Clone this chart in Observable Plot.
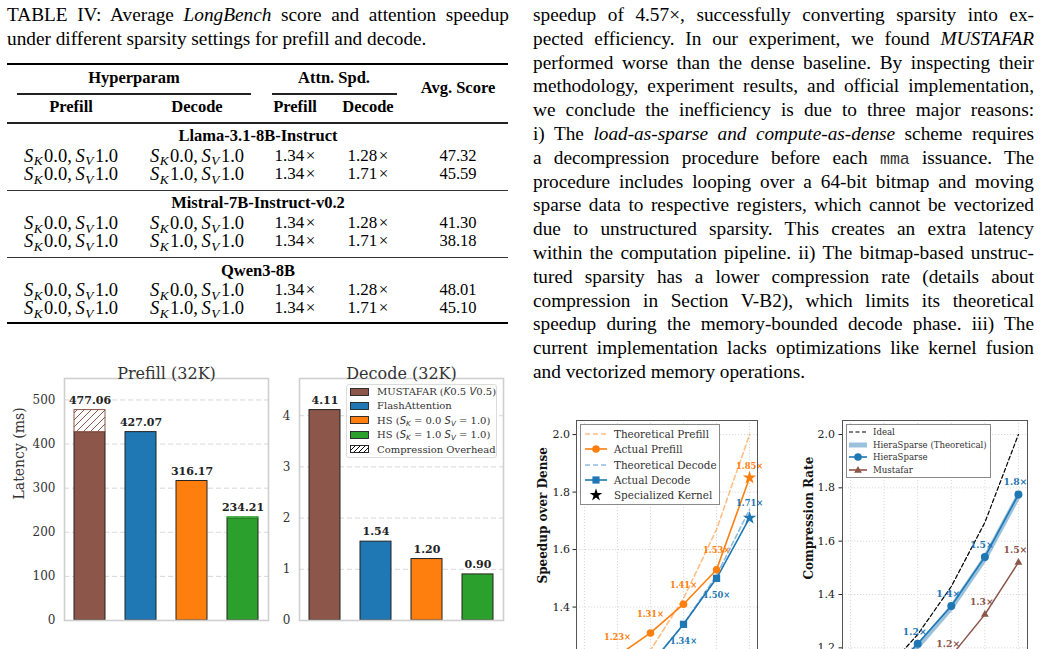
<!DOCTYPE html>
<html>
<head>
<meta charset="utf-8">
<script src="https://cdn.jsdelivr.net/npm/d3@7"></script>
<script src="https://cdn.jsdelivr.net/npm/@observablehq/plot@0.6"></script>
<style>
html, body { margin:0; padding:0; background:#fff; }
body { width:1042px; height:649px; overflow:hidden; position:relative; }
.tx { font-family:"Liberation Serif","Times New Roman",serif; color:#000; position:absolute; }
.j { text-align:justify; text-align-last:justify; }
.cell { position:absolute; width:260px; margin-left:-130px; text-align:center; white-space:nowrap; font-family:"Liberation Serif",serif; font-size:16.5px; line-height:18px; color:#000; }
.cell.math { font-size:18.5px; }
.cell.num { font-size:17px; }
.rule { position:absolute; background:#000; }
sub { font-size:0.72em; vertical-align:-0.28em; line-height:0; }
.cell sub { margin-left:0.5px; margin-right:1.5px; }
.tt { font-family:"Liberation Mono", monospace; font-size:0.86em; color:#333; line-height:0; }
.chart { position:absolute; }
.legend { position:absolute; background:rgba(255,255,255,0.9); box-sizing:border-box; font-family:"DejaVu Serif",serif; color:#333; }
.legend .row { position:absolute; display:flex; align-items:center; white-space:nowrap; height:16px; }
.mi { font-family:"DejaVu Sans",sans-serif; font-style:italic; }
</style>
</head>
<body>
<script>
// ---------------- data ----------------
const captionLines = [
  'TABLE IV: Average <i>LongBench</i> score and attention speedup',
  'under different sparsity settings for prefill and decode.'
];
const models = ["Llama-3.1-8B-Instruct", "Mistral-7B-Instruct-v0.2", "Qwen3-8B"];
const hyperPrefillSK = [0.0, 0.0, 0.0, 0.0, 0.0, 0.0];
const hyperPrefillSV = [1.0, 1.0, 1.0, 1.0, 1.0, 1.0];
const hyperDecodeSK  = [0.0, 1.0, 0.0, 1.0, 0.0, 1.0];
const hyperDecodeSV  = [1.0, 1.0, 1.0, 1.0, 1.0, 1.0];
const attnPrefill = [1.34, 1.34, 1.34, 1.34, 1.34, 1.34];
const attnDecode  = [1.28, 1.71, 1.28, 1.71, 1.28, 1.71];
const avgScore    = [47.32, 45.59, 41.30, 38.18, 48.01, 45.10];

const paraLines = [
  'speedup of 4.57×, successfully converting sparsity into ex-',
  'pected efficiency. In our experiment, we found <i>MUSTAFAR</i>',
  'performed worse than the dense baseline. By inspecting their',
  'methodology, experiment results, and official implementation,',
  'we conclude the inefficiency is due to three major reasons:',
  'i) The <i>load-as-sparse and compute-as-dense</i> scheme requires',
  'a decompression procedure before each <span class="tt">mma</span> issuance. The',
  'procedure includes looping over a 64-bit bitmap and moving',
  'sparse data to respective registers, which cannot be vectorized',
  'due to unstructured sparsity. This creates an extra latency',
  'within the computation pipeline. ii) The bitmap-based unstruc-',
  'tured sparsity has a lower compression rate (details about',
  'compression in Section V-B2), which limits its theoretical',
  'speedup during the memory-bounded decode phase. iii) The',
  'current implementation lacks optimizations like kernel fusion',
  'and vectorized memory operations.'
];

// bar charts
const methods = ["MUSTAFAR", "FlashAttention", "HS0", "HS1"];
const methodLabels = [
  'MUSTAFAR (<span class="mi">K</span>0.5 <span class="mi">V</span>0.5)',
  'FlashAttention',
  'HS (<span class="mi">S<sub>K</sub></span> = 0.0 <span class="mi">S<sub>V</sub></span> = 1.0)',
  'HS (<span class="mi">S<sub>K</sub></span> = 1.0 <span class="mi">S<sub>V</sub></span> = 1.0)'
];
const overheadLabel = 'Compression Overhead';
const methodColors = ["#8c564b", "#1f77b4", "#ff7f0e", "#2ca02c"];
const prefillKernel = [427.07, 427.07, 316.17, 231.60];
const prefillTotal  = [477.06, 427.07, 316.17, 234.21];
const decodeKernel  = [4.11, 1.54, 1.20, 0.90];
const decodeTotal   = [4.11, 1.54, 1.20, 0.90];
const prefillTicks = [0, 100, 200, 300, 400, 500];
const decodeTicks  = [0, 1, 2, 3, 4];

// speedup chart
const sparsity = [0.0, 0.1, 0.2, 0.3, 0.4, 0.5];
const theoPrefill   = [1.00, 1.11, 1.25, 1.43, 1.67, 2.00];
const actualPrefill = [1.12, 1.23, 1.31, 1.41, 1.53, 1.85];
const theoDecode    = [1.00, 1.09, 1.20, 1.34, 1.51, 1.74];
const actualDecode  = [1.02, 1.10, 1.20, 1.34, 1.50, 1.71];
const speedTicks = [1.0, 1.2, 1.4, 1.6, 1.8, 2.0];
const speedLegend = ["Theoretical Prefill", "Actual Prefill", "Theoretical Decode", "Actual Decode", "Specialized Kernel"];

// compression chart
const idealRate    = [1.00, 1.11, 1.25, 1.43, 1.67, 2.00];
const hieraTheo    = [0.98, 1.09, 1.205, 1.35, 1.535, 1.77];
const hieraRate    = [0.98, 1.09, 1.215, 1.357, 1.541, 1.775];
const mustafarRate = [0.92, 0.99, 1.07, 1.17, 1.325, 1.52];
const rateTicks = [1.0, 1.2, 1.4, 1.6, 1.8, 2.0];
const rateLegend = ["Ideal", "HieraSparse (Theoretical)", "HieraSparse", "Mustafar"];

// ---------------- helpers ----------------
function el(tag, cls, style, html) {
  const e = document.createElement(tag);
  if (cls) e.className = cls;
  if (style) Object.assign(e.style, style);
  if (html != null) e.innerHTML = html;
  document.body.appendChild(e);
  return e;
}
function place(node, left, top) {
  node.style.position = "absolute";
  node.style.left = left + "px";
  node.style.top = top + "px";
  document.body.appendChild(node);
}

// ---------------- caption ----------------
const cap = el("div", "tx", {left: "7px", top: "3px", width: "502px", fontSize: "19.3px", lineHeight: "24px"});
captionLines.forEach((h, i) => {
  const d = document.createElement("div");
  if (i < captionLines.length - 1) d.className = "j";
  d.innerHTML = h;
  cap.appendChild(d);
});

// ---------------- table ----------------
function rule(x1, x2, y, h, color) {
  el("div", "rule", {left: x1 + "px", width: (x2 - x1) + "px", top: (y - h / 2) + "px", height: h + "px", background: color || "#000"});
}
function cell(html, cx, cy, bold, kind) {
  el("div", "cell" + (kind ? " " + kind : ""), {left: cx + "px", top: (cy - 10) + "px", fontWeight: bold ? "bold" : "normal"}, html);
}
const colX = [71, 197, 295, 368, 458];
rule(7, 508, 64, 1.7);
cell("Hyperparam", 134, 79, true);
cell("Attn. Spd.", 334, 79, true);
cell("Avg. Score", 458, 89, true);
rule(17, 251, 94, 1.1, "#222");
rule(272, 397, 94, 1.1, "#222");
cell("Prefill", colX[0], 108, true);
cell("Decode", colX[1], 108, true);
cell("Prefill", colX[2], 108, true);
cell("Decode", colX[3], 108, true);
rule(7, 508, 123, 1.1, "#222");
const sk = (k, v) => `<i>S</i><sub><i>K</i></sub>${k.toFixed(1)},&#8201;<i>S</i><sub><i>V</i></sub>${v.toFixed(1)}`;
const times = v => v.toFixed(2) + "&#8202;×";
models.forEach((m, g) => {
  const gy = 137 + g * 67.3;
  if (g > 0) rule(7, 508, gy - 14, 1.1, "#333");
  cell(m, 258, gy, true);
  for (let r = 0; r < 2; r++) {
    const i = g * 2 + r;
    const y = gy + 19.5 + r * 18.3;
    cell(sk(hyperPrefillSK[i], hyperPrefillSV[i]), colX[0], y, false, "math");
    cell(sk(hyperDecodeSK[i], hyperDecodeSV[i]), colX[1], y, false, "math");
    cell(times(attnPrefill[i]), colX[2], y, false, "num");
    cell(times(attnDecode[i]), colX[3], y, false, "num");
    cell(avgScore[i].toFixed(2), colX[4], y);
  }
});
rule(7, 508, 323, 1.7);

// ---------------- paragraph ----------------
const para = el("div", "tx", {left: "533px", top: "3px", width: "501px", fontSize: "19.3px", lineHeight: "23.8px"});
paraLines.forEach((h, i) => {
  const d = document.createElement("div");
  d.style.height = "23.8px";
  if (i < paraLines.length - 1) d.className = "j";
  d.innerHTML = h;
  para.appendChild(d);
});

// ---------------- bar charts ----------------
function barChart(cfg) {
  const data = methods.map((m, i) => ({
    m, base: cfg.base[i], total: cfg.total[i], color: methodColors[i],
    hatch: `url(#hatch-${cfg.id}-${i})`, text: cfg.total[i].toFixed(2)
  }));
  const over = data.filter(d => d.total - d.base > 1e-6);
  const marks = [
    Plot.ruleY(cfg.ticks.slice(1), {stroke: "#d4d4d4", strokeDasharray: "5,3", strokeWidth: 0.9}),
    Plot.barY(data, {x: "m", y: "base", fill: "color", stroke: "#222", strokeWidth: 1}),
    Plot.barY(over, {x: "m", y1: "base", y2: "total", fill: "hatch", stroke: "color", strokeWidth: 1}),
    Plot.text(data, {x: "m", y: "total", text: "text", dy: -10, fontWeight: "bold", fontSize: 11, fill: "#222"}),
    Plot.frame({stroke: "#cfcfcf", strokeWidth: 1.6}),
    Plot.text([cfg.title], {text: d => d, frameAnchor: "top", dy: -11, fontSize: 16, fill: "#333"})
  ];
  if (cfg.ylabel) marks.push(Plot.text([cfg.ylabel], {text: d => d, frameAnchor: "left", dx: -45, rotate: -90, fontSize: 14, fill: "#333"}));
  const svg = Plot.plot({
    width: cfg.width, height: 300,
    marginLeft: cfg.marginLeft, marginRight: 12, marginTop: 38, marginBottom: 20,
    style: {fontFamily: "'DejaVu Serif', serif", fontSize: "12px", color: "#333", background: "transparent"},
    x: {domain: methods, axis: null, paddingInner: 0.4, paddingOuter: 0.2},
    y: {domain: [0, cfg.yMax], ticks: cfg.ticks, tickSize: 0, tickPadding: 9, label: null, tickFormat: d => String(d)},
    color: {type: "identity"},
    marks
  });
  const defs = d3.select(svg).insert("defs", ":first-child");
  data.forEach((d, i) => {
    const p = defs.append("pattern").attr("id", `hatch-${cfg.id}-${i}`)
      .attr("patternUnits", "userSpaceOnUse").attr("width", 7).attr("height", 7);
    p.append("rect").attr("width", 7).attr("height", 7).attr("fill", "white");
    p.append("path").attr("d", "M-1,1 L1,-1 M0,7 L7,0 M6,8 L8,6")
      .attr("stroke", d.color).attr("stroke-width", 1);
  });
  place(svg, cfg.left, cfg.top);
}
barChart({id: "p", base: prefillKernel, total: prefillTotal, ticks: prefillTicks, yMax: 477.06 * 1.15,
  title: "Prefill (32K)", ylabel: "Latency (ms)", width: 280, marginLeft: 64, left: 0, top: 340});
barChart({id: "d", base: decodeKernel, total: decodeTotal, ticks: decodeTicks, yMax: 4.11 * 1.15,
  title: "Decode (32K)", ylabel: null, width: 235, marginLeft: 19, left: 280, top: 340});

// ---------------- legends ----------------
const starPath = (size) => d3.symbol(d3.symbolStar, size)();
const triPath = (size) => d3.symbol(d3.symbolTriangle, size)();
function legend(cfg) {
  const box = el("div", "legend", {left: cfg.left + "px", top: cfg.top + "px", width: cfg.width + "px",
    height: cfg.height + "px", border: cfg.border, borderRadius: (cfg.radius || 0) + "px", fontSize: cfg.fontSize + "px"});
  cfg.items.forEach((it, i) => {
    const row = document.createElement("div");
    row.className = "row";
    row.style.left = (cfg.swLeft - cfg.left - 1) + "px";
    row.style.top = (cfg.firstRow + i * cfg.rowStep - cfg.top - 1 - 8) + "px";
    row.innerHTML = `<svg width="${cfg.swW}" height="16" style="flex:none;margin-right:${cfg.gap}px;overflow:visible">${it.swatch(cfg.swW)}</svg><span>${it.label}</span>`;
    box.appendChild(row);
  });
}
const rectSw = c => w => `<rect x="0.5" y="4.5" width="${w - 1}" height="7" fill="${c}" stroke="#222" stroke-width="0.9"/>`;
const hatchSw = w => `<defs><pattern id="lg-hatch" patternUnits="userSpaceOnUse" width="5" height="5"><path d="M-1,1 L1,-1 M0,5 L5,0 M4,6 L6,4" stroke="#111" stroke-width="1"/></pattern></defs><rect x="0.5" y="4.5" width="${w - 1}" height="7" fill="url(#lg-hatch)" stroke="#111" stroke-width="0.9"/>`;
legend({left: 346, top: 384, width: 151, height: 74, border: "1px solid #dcdcdc", radius: 3, fontSize: 10,
  swLeft: 350, swW: 19, gap: 8, firstRow: 391.5, rowStep: 14.4,
  items: methods.map((m, i) => ({label: methodLabels[i], swatch: rectSw(methodColors[i])}))
    .concat([{label: overheadLabel, swatch: hatchSw}])});

const lineSw = (c, dash, op, wd) => w => `<line x1="0" x2="${w}" y1="8" y2="8" stroke="${c}" stroke-width="${wd || 1.6}" ${dash ? `stroke-dasharray="${dash}"` : ""} stroke-opacity="${op || 1}"/>`;
const lineDotSw = (c, shape) => w => `<line x1="0" x2="${w}" y1="8" y2="8" stroke="${c}" stroke-width="1.6"/>` +
  (shape === "circle" ? `<circle cx="${w / 2}" cy="8" r="3.8" fill="${c}"/>` :
   shape === "square" ? `<rect x="${w / 2 - 3.6}" y="4.4" width="7.2" height="7.2" fill="${c}"/>` :
   `<path transform="translate(${w / 2},8.5)" d="${triPath(26)}" fill="${c}"/>`);
const starSw = w => `<path transform="translate(${w / 2},8)" d="${starPath(50)}" fill="#000"/>`;
legend({left: 580, top: 424, width: 140, height: 81, border: "1px solid #8a8a8a", fontSize: 10.4,
  swLeft: 585, swW: 22, gap: 7, firstRow: 434, rowStep: 15.3,
  items: [
    {label: speedLegend[0], swatch: lineSw("#ff7f0e", "5,3", 0.5)},
    {label: speedLegend[1], swatch: lineDotSw("#ff7f0e", "circle")},
    {label: speedLegend[2], swatch: lineSw("#1f77b4", "5,3", 0.5)},
    {label: speedLegend[3], swatch: lineDotSw("#1f77b4", "square")},
    {label: speedLegend[4], swatch: starSw}
  ]});
legend({left: 846, top: 424, width: 145, height: 54, border: "1px solid #8a8a8a", fontSize: 8.6,
  swLeft: 849, swW: 18, gap: 6, firstRow: 432, rowStep: 12.6,
  items: [
    {label: rateLegend[0], swatch: lineSw("#000", "4,2.5", 1, 1.2)},
    {label: rateLegend[1], swatch: lineSw("#1f77b4", null, 0.45, 5)},
    {label: rateLegend[2], swatch: lineDotSw("#1f77b4", "circle")},
    {label: rateLegend[3], swatch: lineDotSw("#8c564b", "triangle")}
  ]});

// ---------------- line charts ----------------
const pts = ys => sparsity.map((s, i) => ({s, v: ys[i], i}));
const last = sparsity.length - 1;
const gridMarks = ticks => [
  Plot.ruleX(sparsity, {stroke: "#cfcfcf", strokeDasharray: "1.2,1.8", strokeWidth: 0.8}),
  Plot.ruleY(ticks, {stroke: "#cfcfcf", strokeDasharray: "1.2,1.8", strokeWidth: 0.8})
];
const lineStyle = {fontFamily: "'DejaVu Serif', serif", fontSize: "11px", color: "#222", background: "transparent"};

// speedup
{
  const ap = pts(actualPrefill), ad = pts(actualDecode);
  const fmt = d => d.v.toFixed(2) + "×";
  const svg = Plot.plot({
    width: 245, height: 400, marginLeft: 56, marginRight: 8, marginTop: 20, marginBottom: 54,
    style: lineStyle,
    x: {domain: [-0.024, 0.524], axis: null},
    y: {domain: [0.915, 2.049], ticks: speedTicks, tickFormat: ".1f", tickSize: 3.5, tickPadding: 3, label: null},
    marks: [
      ...gridMarks(speedTicks),
      Plot.line(pts(theoPrefill), {x: "s", y: "v", stroke: "#ff7f0e", strokeOpacity: 0.5, strokeDasharray: "5,3", strokeWidth: 1.6}),
      Plot.line(pts(theoDecode), {x: "s", y: "v", stroke: "#1f77b4", strokeOpacity: 0.5, strokeDasharray: "5,3", strokeWidth: 1.6}),
      Plot.line(ap, {x: "s", y: "v", stroke: "#ff7f0e", strokeWidth: 1.6}),
      Plot.line(ad, {x: "s", y: "v", stroke: "#1f77b4", strokeWidth: 1.6}),
      Plot.dot(ap.filter(d => d.i < last), {x: "s", y: "v", r: 3.8, fill: "#ff7f0e", symbol: "circle"}),
      Plot.dot(ad.filter(d => d.i < last), {x: "s", y: "v", r: 4.1, fill: "#1f77b4", symbol: "square"}),
      Plot.dot(ap.filter(d => d.i === last), {x: "s", y: "v", r: 4.2, fill: "#ff7f0e", symbol: "star"}),
      Plot.dot(ad.filter(d => d.i === last), {x: "s", y: "v", r: 4.2, fill: "#1f77b4", symbol: "star"}),
      Plot.text(ap.filter(d => d.i < last), {x: "s", y: "v", text: fmt, dy: -19, fontWeight: "bold", fontSize: 8.3, fill: "#ff7f0e"}),
      Plot.text(ap.filter(d => d.i === last), {x: "s", y: "v", text: fmt, dy: -11, fontWeight: "bold", fontSize: 8.3, fill: "#ff7f0e"}),
      Plot.text(ad.filter(d => d.i < last), {x: "s", y: "v", text: fmt, dy: 17, fontWeight: "bold", fontSize: 8.3, fill: "#1f77b4"}),
      Plot.text(ad.filter(d => d.i === last), {x: "s", y: "v", text: fmt, dy: -15, fontWeight: "bold", fontSize: 8.3, fill: "#1f77b4"}),
      Plot.frame({stroke: "#555", strokeWidth: 1}),
      Plot.text(["Speedup over Dense"], {text: d => d, frameAnchor: "left", dx: -33, rotate: -90, fontWeight: "bold", fontSize: 12, fill: "#111"})
    ]
  });
  place(svg, 520, 400);
}

// compression rate
{
  const hr = pts(hieraRate), mr = pts(mustafarRate);
  const fmt = d => d.v.toFixed(1) + "×";
  const svg = Plot.plot({
    width: 262, height: 392, marginLeft: 62, marginRight: 15, marginTop: 20, marginBottom: 54,
    style: lineStyle,
    x: {domain: [-0.024, 0.527], axis: null},
    y: {domain: [0.86, 2.0525], ticks: rateTicks, tickFormat: ".1f", tickSize: 3.5, tickPadding: 4, label: null},
    marks: [
      ...gridMarks(rateTicks),
      Plot.line(pts(idealRate), {x: "s", y: "v", stroke: "#000", strokeDasharray: "4,2.5", strokeWidth: 1.2}),
      Plot.line(pts(hieraTheo), {x: "s", y: "v", stroke: "#1f77b4", strokeOpacity: 0.45, strokeWidth: 5}),
      Plot.line(hr, {x: "s", y: "v", stroke: "#1f77b4", strokeWidth: 1.6}),
      Plot.line(mr, {x: "s", y: "v", stroke: "#8c564b", strokeWidth: 1.4}),
      Plot.dot(hr, {x: "s", y: "v", r: 4, fill: "#1f77b4", symbol: "circle"}),
      Plot.dot(mr, {x: "s", y: "v", r: 2.9, fill: "#8c564b", symbol: "triangle"}),
      Plot.text(hr, {x: "s", y: "v", text: fmt, dy: -12, dx: -3, fontWeight: "bold", fontSize: 9.3, fill: "#1f77b4"}),
      Plot.text(mr, {x: "s", y: "v", text: fmt, dy: -12, dx: -3, fontWeight: "bold", fontSize: 9.3, fill: "#8c564b"}),
      Plot.frame({stroke: "#555", strokeWidth: 1}),
      Plot.text(["Compression Rate"], {text: d => d, frameAnchor: "left", dx: -33, rotate: -90, fontWeight: "bold", fontSize: 12, fill: "#111"})
    ]
  });
  place(svg, 780, 400);
}
// keep legends above charts
document.querySelectorAll(".legend").forEach(l => document.body.appendChild(l));
</script>
</body>
</html>
